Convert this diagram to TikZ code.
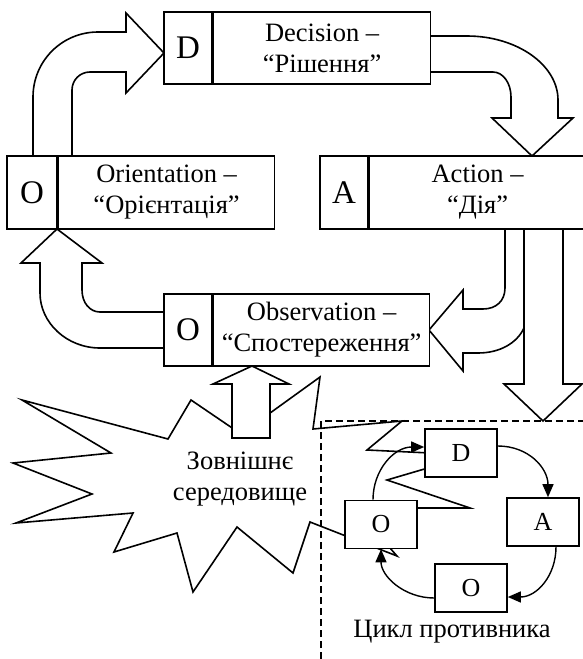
\documentclass[tikz,border=0pt]{standalone}
\usepackage{fontspec}
\setmainfont{Liberation Serif}
\usetikzlibrary{arrows.meta}
\begin{document}
\begin{tikzpicture}[x=1pt,y=-1pt,line width=1.6pt,line join=miter,
  lbl/.style={font=\fontsize{26.5}{31}\selectfont,align=center},
  letter/.style={draw,fill=white,inner sep=0pt,font=\fontsize{33}{33}\selectfont},
  textcell/.style={draw,fill=white,inner sep=0pt,anchor=west,lbl},
  blk/.style={draw,fill=white},
  sbox/.style={draw,fill=white,inner sep=0pt,minimum width=72pt,minimum height=48pt,font=\fontsize{26}{26}\selectfont},
  flow/.style={line width=1.4pt,-{Triangle[length=13pt,width=11pt]}},
  border/.style={line width=1.4pt,dash pattern=on 7pt off 4pt}]
\useasboundingbox (0,0) rectangle (582,659);

% external environment burst
\draw[fill=white] (22,400) -- (168,439) -- (191,400) -- (241,434) -- (320,377) -- (313,429)
  -- (402,421) -- (367,450) -- (472,455) -- (387,480) -- (470,508) -- (355,508)
  -- (397,556) -- (310,522) -- (293,573) -- (237,527) -- (193,592) -- (177,533)
  -- (114,552) -- (133,513) -- (16,523) -- (92,494) -- (13,463) -- (111,453) -- cycle;

% adversary cycle border
\draw[border] (321,659) -- (321,421) -- (584,421);

% block arrows
\draw[blk] (33,156) -- (33,97) .. controls (33,61) and (62,32) .. (98,32) -- (126,32) -- (126,13)
  -- (164,53) -- (126,93) -- (126,72) -- (90,72) .. controls (80,72) and (72,80) .. (72,90) -- (72,156) -- cycle;
\draw[blk] (429,36) -- (467,36) .. controls (517,36) and (558,65) .. (558,100) -- (558,118) -- (573,118)
  -- (532,156) -- (492,118) -- (511,118) -- (511,97) .. controls (511,83) and (503,72) .. (493,72) -- (429,72) -- cycle;
\draw[blk] (164,312) -- (100,312) .. controls (90,312) and (82,303) .. (82,290) -- (82,263) -- (102,263)
  -- (57,229) -- (21,263) -- (40,263) -- (40,293) .. controls (40,323) and (67,348) .. (100,348) -- (164,348) -- cycle;
\draw[blk] (505,229) -- (505,288) .. controls (505,301) and (496,309) .. (483,309) -- (463,309) -- (463,290)
  -- (429,330) -- (463,371) -- (463,353) -- (478,353) .. controls (500,353) and (517,343) .. (524,328) -- (524,229) -- cycle;
\draw[blk] (524,229) -- (524,384) -- (504,384) -- (543,421) -- (582,384) -- (563,384) -- (563,229) -- cycle;
\draw[blk] (232,438) -- (232,384) -- (213,384) -- (252,366) -- (289,384) -- (270,384) -- (270,438) -- cycle;

% main OODA boxes
\node[letter,minimum width=48pt,minimum height=72pt] (dL) at (188,48) {D};
\node[textcell,minimum width=217pt,minimum height=72pt] (dT) at (dL.east) {Decision –\\“Рішення”};
\node[letter,minimum width=50pt,minimum height=73pt] (oL) at (32,192.5) {O};
\node[textcell,minimum width=216pt,minimum height=73pt] (oT) at (oL.east) {Orientation –\\“Орієнтація”};
\node[letter,minimum width=48pt,minimum height=73pt] (aL) at (344,192.5) {A};
\node[textcell,minimum width=216pt,minimum height=73pt] (aT) at (aL.east) {Action –\\“Дія”};
\node[letter,minimum width=48pt,minimum height=72pt] (sL) at (188,330) {O};
\node[textcell,minimum width=216pt,minimum height=72pt] (sT) at (sL.east) {Observation –\\“Спостереження”};

% adversary cycle
\node[sbox] (cD) at (461,453) {D};
\node[sbox] (cA) at (543,522) {A};
\node[sbox] (cO2) at (471,588) {O};
\node[sbox] (cO1) at (381,524.5) {O};
\draw[flow] ([yshift=7pt]cD.east) .. controls +(31,0) and +(0,-29) .. ([xshift=5pt]cA.north);
\draw[flow] ([xshift=13pt]cA.south) .. controls +(0,29) and +(29,0) .. ([yshift=-9pt]cO2.east);
\draw[flow] ([yshift=-10pt]cO2.west) .. controls +(-30,0) and +(0,27) .. (cO1.south);
\draw[flow] ([xshift=-8pt]cO1.north) .. controls +(0,-30) and +(-30,0) .. ([yshift=6pt]cD.west);

% labels
\node[lbl] (env) at (240,479) {Зовнішнє\\середовище};
\node[lbl,anchor=base] (cyc) at (452,637) {Цикл противника};
\end{tikzpicture}
\end{document}
